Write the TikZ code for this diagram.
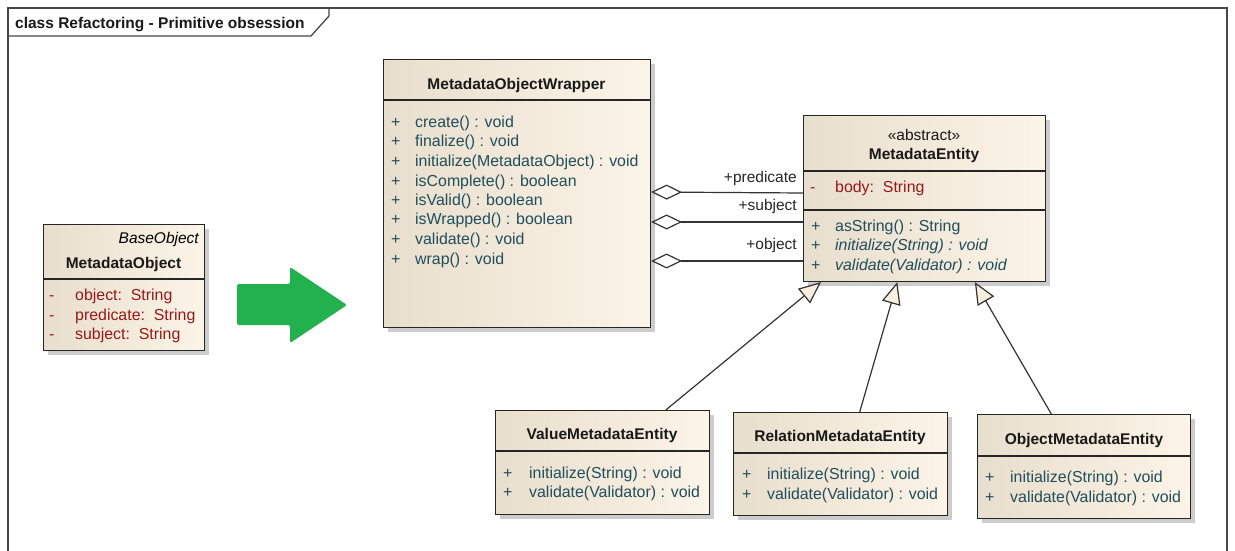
\documentclass[tikz,border=0pt]{standalone}
\usepackage{fontspec}
\setmainfont{Liberation Sans}
\usetikzlibrary{arrows.meta,shadows,calc}
\definecolor{frameline}{RGB}{70,70,70}
\definecolor{boxleft}{RGB}{232,222,205}
\definecolor{boxright}{RGB}{252,244,231}
\definecolor{tipfill}{RGB}{250,239,222}
\definecolor{opcolor}{RGB}{32,78,92}
\definecolor{attrcolor}{RGB}{150,25,25}
\definecolor{arrowgreen}{RGB}{34,177,76}
\begin{document}
\begin{tikzpicture}[x=1pt,y=-1pt,
  txt/.style={inner sep=0pt, text height=14.5pt, text depth=2pt, font=\fontsize{15.5}{19}\selectfont},
  classbox/.style={draw=black!85, line width=1.1pt, left color=boxleft, right color=boxright,
    anchor=north west, inner sep=0pt,
    drop shadow={shadow xshift=4pt, shadow yshift=-4pt, fill=black!20, opacity=1}},
  title/.style={txt, font=\fontsize{15.5}{19}\selectfont\bfseries, text=black!90},
  op/.style={txt, anchor=west, text=opcolor, font=\fontsize{15.9}{19}\selectfont},
  attr/.style={txt, anchor=west, text=attrcolor, font=\fontsize{15.9}{19}\selectfont},
  role/.style={txt, anchor=east, text=black!85},
  sep/.style={draw=black!85, line width=1.1pt},
  agg/.style={draw=black!80, line width=1.2pt, -{Diamond[fill=white, length=31pt, width=15pt]}},
  gen/.style={draw=black!80, line width=1.2pt, -{Triangle[fill=tipfill, length=22pt, width=19pt]}}]
  \useasboundingbox (0,0) rectangle (1235,551);
  % diagram frame with its name tab
  \draw[frameline, line width=1.3pt] (8,570) -- (8,8) -- (1227,8) -- (1227,570);
  \draw[frameline, line width=1.3pt] (8,36) -- (311,36) -- (329,16) -- (329,8);
  \node[title, anchor=west] (frametitle) at (15,22) {class Refactoring - Primitive obsession};

  % old class
  \node[classbox, minimum width=161, minimum height=126] (mobj) at (43,224) {};
  \draw[sep] (mobj.west |- 0,279) -- (mobj.east |- 0,279);
  \node[txt, anchor=east, font=\fontsize{15.5}{19}\selectfont\itshape] (mobjbase) at (199,237) {BaseObject};
  \node[title] (mobjname) at (123.5,262) {MetadataObject};
  \node[attr] at (49,294) {-};
  \node[attr] at (75,294) {object:\ \ String};
  \node[attr] at (49,314) {-};
  \node[attr] at (75,314) {predicate:\ \ String};
  \node[attr] at (49,333) {-};
  \node[attr] at (75,333) {subject:\ \ String};

  % refactoring arrow
  \fill[arrowgreen, rounded corners=2] (237,284) -- (290,284) -- (290,267) -- (347,305)
    -- (290,343) -- (290,325) -- (237,325) -- cycle;

  % wrapper class
  \node[classbox, minimum width=267, minimum height=268] (wrapper) at (383,59) {};
  \draw[sep] (wrapper.west |- 0,100) -- (wrapper.east |- 0,100);
  \node[title] (wrappername) at (516.5,83) {MetadataObjectWrapper};
  \foreach \y/\op in {121/create() : void, 140/finalize() : void,
      160/initialize(MetadataObject) : void, 180/isComplete() : boolean,
      199/isValid() : boolean, 218/isWrapped() : boolean,
      238/validate() : void, 258/wrap() : void} {
    \node[op] at (391,\y) {+};
    \node[op] at (415,\y) {\op};
  }

  % abstract entity
  \node[classbox, minimum width=242, minimum height=166] (entity) at (803,115) {};
  \draw[sep] (entity.west |- 0,171) -- (entity.east |- 0,171);
  \draw[sep] (entity.west |- 0,210) -- (entity.east |- 0,210);
  \node[txt, text=black!90] (entitystereo) at (924,134) {«abstract»};
  \node[title] (entityname) at (924,153) {MetadataEntity};
  \node[attr] at (810,186) {-};
  \node[attr] at (835,186) {body:\ \ String};
  \node[op] at (811,225) {+};
  \node[op] at (835,225) {asString() : String};
  \node[op] at (811,244) {+};
  \node[op, font=\fontsize{15.9}{19}\selectfont\itshape] at (835,244) {initialize(String) : void};
  \node[op] at (811,264) {+};
  \node[op, font=\fontsize{15.9}{19}\selectfont\itshape] at (835,264) {validate(Validator) : void};

  % subclasses
  \node[classbox, minimum width=214, minimum height=104] (value) at (495,410) {};
  \draw[sep] (value.west |- 0,451) -- (value.east |- 0,451);
  \node[title] (valuename) at (602,433) {ValueMetadataEntity};
  \node[op] at (503,472) {+};
  \node[op] at (529,472) {initialize(String) : void};
  \node[op] at (503,491) {+};
  \node[op] at (529,491) {validate(Validator) : void};

  \node[classbox, minimum width=214, minimum height=103] (relation) at (733,412) {};
  \draw[sep] (relation.west |- 0,453) -- (relation.east |- 0,453);
  \node[title] (relationname) at (840,435) {RelationMetadataEntity};
  \node[op] at (742,473) {+};
  \node[op] at (767,473) {initialize(String) : void};
  \node[op] at (742,493) {+};
  \node[op] at (767,493) {validate(Validator) : void};

  \node[classbox, minimum width=213, minimum height=104] (object) at (977,414) {};
  \draw[sep] (object.west |- 0,456) -- (object.east |- 0,456);
  \node[title] (objectname) at (1084,438) {ObjectMetadataEntity};
  \node[op] at (985,476) {+};
  \node[op] at (1010,476) {initialize(String) : void};
  \node[op] at (985,496) {+};
  \node[op] at (1010,496) {validate(Validator) : void};

  % aggregations
  \draw[agg] (entity.west |- 0,193) -- (wrapper.east |- 0,192);
  \draw[agg] (entity.west |- 0,222) -- (wrapper.east |- 0,222);
  \draw[agg] (entity.west |- 0,261) -- (wrapper.east |- 0,261);
  \node[role] at (797,176) {+predicate};
  \node[role] at (797,204) {+subject};
  \node[role] at (797,243) {+object};

  % generalizations
  \draw[gen] ($(value.north west)!0.794!(value.north east)$) -- ($(entity.south west)!0.074!(entity.south east)$);
  \draw[gen] ($(relation.north west)!0.589!(relation.north east)$) -- ($(entity.south west)!0.388!(entity.south east)$);
  \draw[gen] ($(object.north west)!0.347!(object.north east)$) -- ($(entity.south west)!0.707!(entity.south east)$);
\end{tikzpicture}
\end{document}
